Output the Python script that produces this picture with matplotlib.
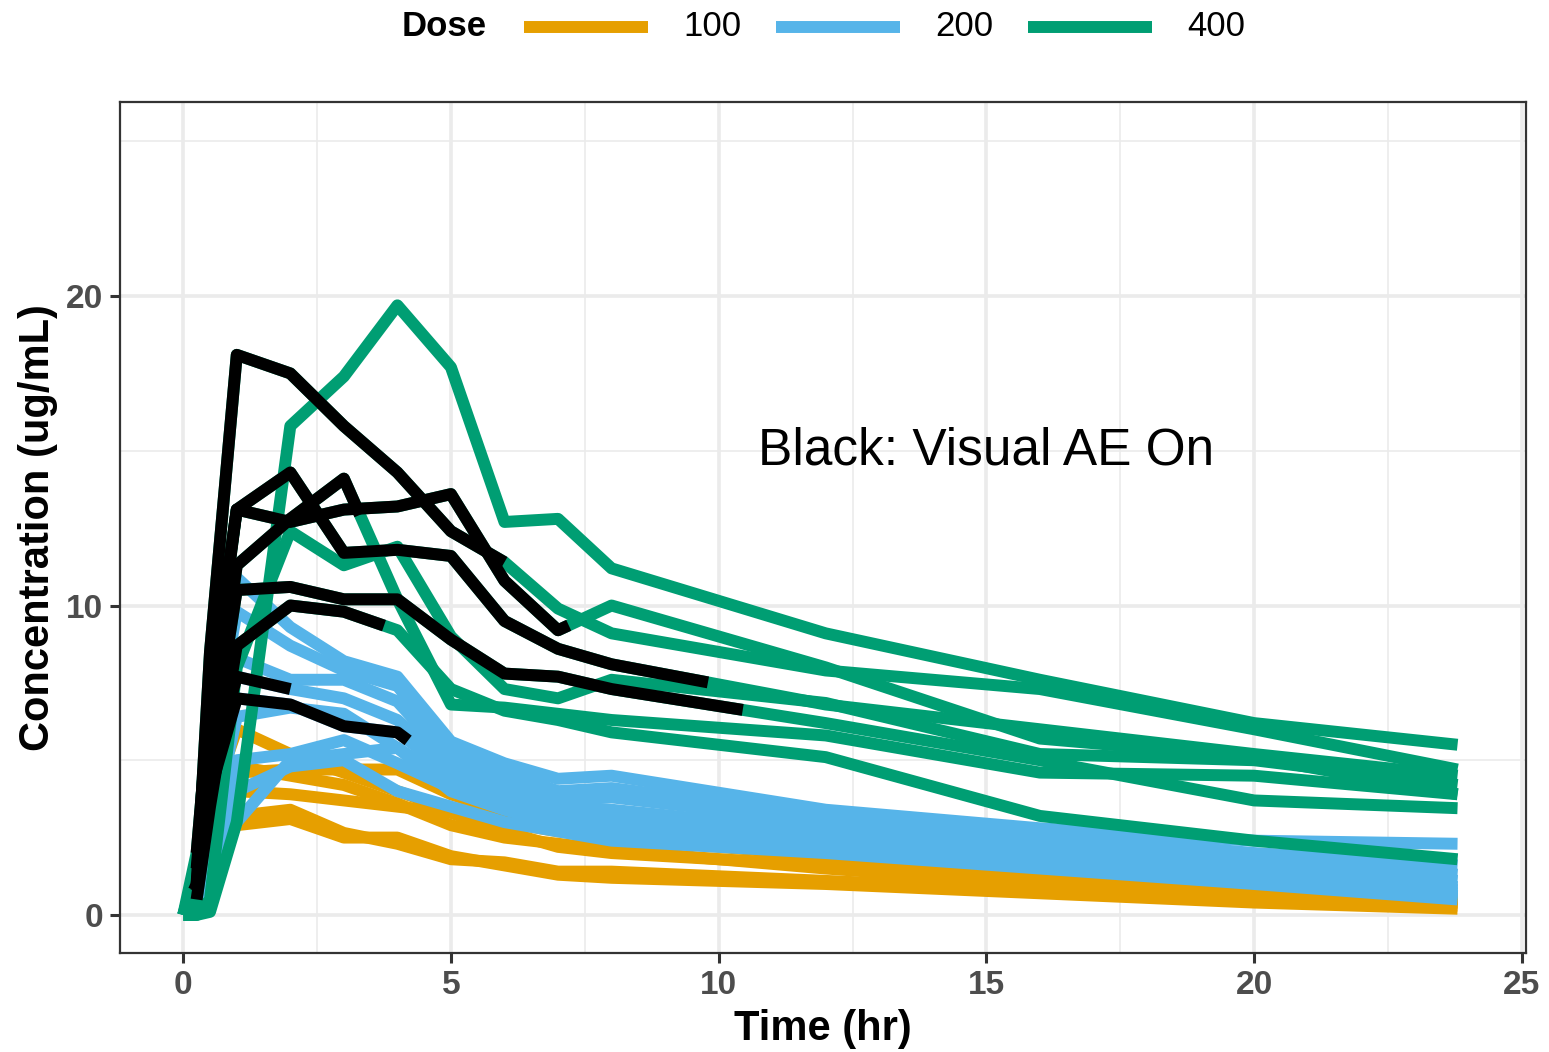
import matplotlib
matplotlib.use('Agg')
import matplotlib.pyplot as plt
from matplotlib.lines import Line2D
import numpy as np

plt.rcParams['font.family'] = ['Liberation Sans', 'DejaVu Sans']

# sampling times (hr)
times = [0, 0.25, 0.5, 1, 2, 3, 4, 5, 6, 7, 8, 12, 16, 20, 23.8]

doses = [100, 200, 400]
dose_colors = {100: '#E69F00', 200: '#56B4E9', 400: '#009E73'}

# concentration profiles (ug/mL) per subject
dose100 = [
    [0, 1.0, 3.5, 6.0, 5.2, 4.6, 4.0, 3.4, 3.0, 2.7, 2.5, 1.9, 1.3, 0.8, 0.6],
    [0, 0.8, 3.0, 4.6, 4.7, 4.7, 4.7, 3.9, 3.3, 3.0, 3.2, 2.2, 1.5, 0.9, 0.5],
    [0, 0.6, 2.5, 4.0, 3.9, 3.7, 3.5, 3.3, 2.7, 2.2, 2.0, 1.6, 1.1, 0.7, 0.4],
    [0, 0.7, 2.8, 4.8, 4.5, 4.2, 3.6, 2.9, 2.5, 2.3, 2.1, 1.5, 1.0, 0.6, 0.4],
    [0, 0.5, 2.0, 3.2, 3.4, 2.65, 2.3, 1.8, 1.7, 1.4, 1.4, 1.1, 0.8, 0.5, 0.3],
    [0, 0.4, 1.8, 2.9, 3.1, 2.5, 2.5, 1.9, 1.6, 1.3, 1.2, 1.0, 0.7, 0.4, 0.2],
]
dose200 = [
    [0, 1.5, 6.0, 10.9, 9.3, 8.2, 7.7, 5.6, 4.9, 4.4, 4.5, 3.4, 2.8, 2.4, 2.3],
    [0, 1.0, 5.0, 9.8, 8.7, 7.9, 7.4, 5.3, 4.6, 4.0, 4.1, 3.2, 2.6, 2.0, 1.6],
    [0, 0.8, 4.0, 8.3, 7.6, 7.6, 6.9, 5.0, 4.3, 3.7, 3.8, 3.0, 2.4, 1.8, 1.3],
    [0, 1.0, 4.5, 7.7, 7.3, 7.0, 6.3, 4.8, 4.0, 3.5, 3.4, 2.7, 2.2, 1.6, 1.1],
    [0, 1.0, 4.0, 7.0, 6.8, 6.1, 5.9, 4.6, 3.8, 3.3, 3.1, 2.5, 2.0, 1.4, 0.9],
    [0, 0.5, 2.5, 6.4, 6.7, 6.5, 5.4, 4.3, 3.7, 3.0, 2.8, 2.3, 1.8, 1.3, 0.8],
    [0, 0.3, 2.0, 5.0, 5.2, 5.65, 4.9, 4.1, 3.9, 3.3, 3.0, 2.4, 1.9, 1.2, 0.6],
    [0, 0.2, 1.5, 4.0, 4.8, 5.0, 4.0, 3.5, 3.0, 2.7, 2.4, 2.0, 1.5, 1.0, 0.5],
    [0, 0.1, 0.8, 3.0, 5.0, 5.2, 5.4, 4.0, 3.4, 2.9, 2.6, 2.1, 1.6, 1.1, 0.7],
]
dose400 = [
    [0, 0.0, 0.1, 3.0, 15.8, 17.4, 19.7, 17.7, 12.7, 12.8, 11.2, 9.1, 7.6, 6.2, 5.5],
    [0, 1.0, 8.5, 18.1, 17.5, 15.8, 14.3, 12.4, 11.4, 9.9, 9.1, 7.9, 7.3, 6.0, 4.7],
    [0, 1.5, 6.5, 13.1, 12.7, 13.1, 13.2, 13.6, 10.8, 9.2, 10.0, 8.0, 5.7, 5.1, 3.9],
    [0, 2.0, 7.0, 13.1, 14.3, 11.7, 11.8, 11.6, 9.5, 8.6, 8.1, 6.8, 6.0, 5.2, 4.5],
    [0, 1.0, 5.0, 10.5, 10.6, 10.2, 10.2, 8.9, 7.8, 7.7, 7.3, 6.2, 5.0, 3.7, 3.45],
    [0, 0.8, 5.0, 11.3, 12.8, 14.1, 10.2, 6.8, 6.7, 6.5, 6.3, 5.8, 4.6, 4.5, 3.9],
    [0, 0.5, 3.5, 8.7, 10.0, 9.8, 9.2, 7.3, 6.6, 6.3, 5.9, 5.1, 3.2, 2.4, 1.8],
    [0, 0.0, 0.5, 8.0, 12.4, 11.3, 11.9, 9.0, 7.3, 7.0, 7.6, 6.85, 5.2, 5.0, 4.2],
]

# visual AE on/off windows (hr): (dose, subject index, start, end)
ae_windows = [
    (400, 1, 0.2, 6.0),
    (400, 2, 0.25, 7.2),
    (400, 3, 0.25, 9.8),
    (400, 4, 0.25, 10.45),
    (400, 5, 0.25, 3.3),
    (400, 6, 0.25, 3.75),
    (200, 3, 0.3, 2.0),
    (200, 4, 0.3, 4.2),
]

profiles = {100: dose100, 200: dose200, 400: dose400}

fig = plt.figure(figsize=(15.49, 10.52), dpi=100)
ax = fig.add_axes([0.0775, 0.0941, 0.9077, 0.8089])

lw = 8.6
t = np.array(times, dtype=float)
for d in doses:
    for conc in profiles[d]:
        ax.plot(t, conc, color=dose_colors[d], lw=lw,
                solid_capstyle='butt', solid_joinstyle='round')

for d, i, t0, t1 in ae_windows:
    conc = np.array(profiles[d][i], dtype=float)
    inside = (t > t0) & (t < t1)
    tt = np.concatenate([[t0], t[inside], [t1]])
    cc = np.interp(tt, t, conc)
    ax.plot(tt, cc, color='black', lw=lw,
            solid_capstyle='butt', solid_joinstyle='round')

ax.text(15, 15, 'Black: Visual AE On', fontsize=37, ha='center', va='center')

ax.set_xlim(-1.18, 25.08)
ax.set_ylim(-1.23, 26.27)
ax.set_xticks([0, 5, 10, 15, 20, 25])
ax.set_yticks([0, 10, 20])
ax.set_xticks([2.5, 7.5, 12.5, 17.5, 22.5], minor=True)
ax.set_yticks([5, 15, 25], minor=True)
ax.grid(which='major', color='#EBEBEB', lw=2.6)
ax.grid(which='minor', color='#EBEBEB', lw=1.2)
ax.set_axisbelow(True)
for s in ax.spines.values():
    s.set_color('#333333')
    s.set_linewidth(1.6)
ax.tick_params(which='major', length=7, width=2.2, color='#333333',
               labelsize=24, labelcolor='#4D4D4D', pad=5)
ax.tick_params(which='minor', length=0)
for lab in ax.get_xticklabels() + ax.get_yticklabels():
    lab.set_fontweight('bold')

ax.set_xlabel('Time (hr)', fontsize=30, fontweight='bold', labelpad=6)
ax.set_ylabel('Concentration (ug/mL)', fontsize=30, fontweight='bold', labelpad=6)

# legend at top, drawn by hand so the title sits inline
W, H = 1549, 1052
ly = 1 - 27 / H
fig.text(402 / W, ly, 'Dose', fontsize=25, fontweight='bold', ha='left', va='center')
key_starts = [524, 776, 1028]
for d, x0 in zip(doses, key_starts):
    fig.add_artist(Line2D([x0 / W, (x0 + 124) / W], [ly, ly], color=dose_colors[d],
                          lw=lw, solid_capstyle='butt', transform=fig.transFigure))
    fig.text((x0 + 159) / W, ly, str(d), fontsize=25, ha='left', va='center')

fig.savefig('out.png', dpi=100)
